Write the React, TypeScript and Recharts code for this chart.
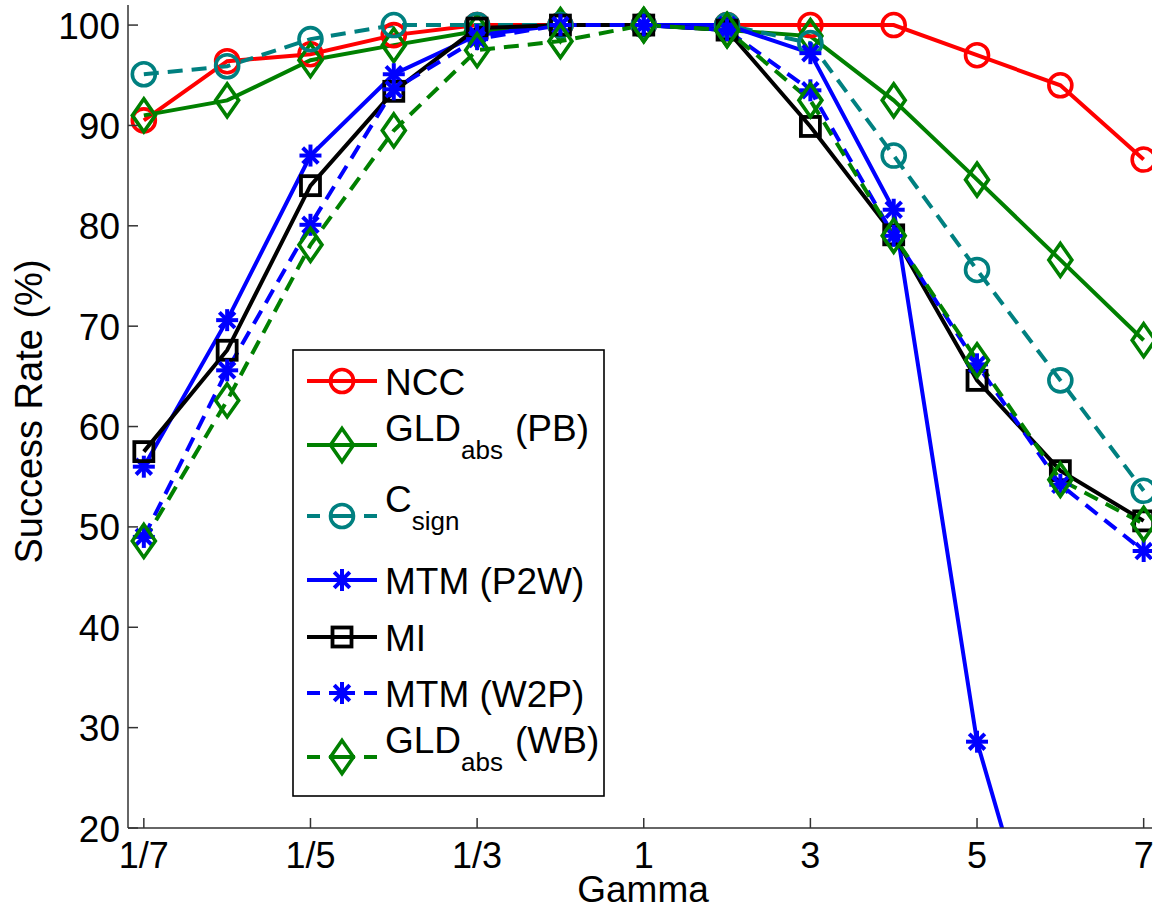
import React from 'react';
import { LineChart, Line, XAxis, YAxis, Legend, Label } from 'recharts';

// ---------- data ----------
const gammaLabels = ['1/7', '1/6', '1/5', '1/4', '1/3', '1/2', '1', '2', '3', '4', '5', '6', '7'];
const xTickIndices = [0, 2, 4, 6, 8, 10, 12];
const yTicks = [20, 30, 40, 50, 60, 70, 80, 90, 100];

const ncc = [90.5, 96.4, 97.1, 99, 100, 100, 100, 100, 100, 100, 97, 94, 86.6];
const gldPB = [91, 92.5, 96.5, 98, 99.4, 100, 100, 99.5, 98.9, 92.5, 84.6, 76.6, 68.6];
const cSign = [95.1, 95.9, 98.6, 100, 100, 100, 100, 100, 98.2, 87, 75.6, 64.6, 53.6];
const mtmP2W = [56, 70.6, 87, 95.1, 99, 100, 100, 100, 97.2, 81.6, 28.6, 0, 0];
const mi = [57.5, 67.6, 84, 93.4, 99.7, 100, 100, 99.5, 89.9, 79.1, 64.6, 55.6, 50.6];
const mtmW2P = [49, 65.6, 80.1, 93.6, 98.6, 100, 100, 99.5, 93.5, 79, 66.2, 54.2, 47.6];
const gldWB = [48.6, 62.6, 78.1, 89.5, 97.5, 98.4, 100, 99.5, 92.5, 79, 66.6, 54.7, 50.3];

type Marker = 'circle' | 'diamond' | 'square' | 'asterisk';
interface Series {
  key: string;
  values: number[];
  main: string;
  sub?: string;
  tail?: string;
  color: string;
  dashed: boolean;
  marker: Marker;
}

const series: Series[] = [
  { key: 'ncc', values: ncc, main: 'NCC', color: '#ff0000', dashed: false, marker: 'circle' },
  { key: 'gldPB', values: gldPB, main: 'GLD', sub: 'abs', tail: '(PB)', color: '#008000', dashed: false, marker: 'diamond' },
  { key: 'cSign', values: cSign, main: 'C', sub: 'sign', color: '#008080', dashed: true, marker: 'circle' },
  { key: 'mtmP2W', values: mtmP2W, main: 'MTM (P2W)', color: '#0000ff', dashed: false, marker: 'asterisk' },
  { key: 'mi', values: mi, main: 'MI', color: '#000000', dashed: false, marker: 'square' },
  { key: 'mtmW2P', values: mtmW2P, main: 'MTM (W2P)', color: '#0000ff', dashed: true, marker: 'asterisk' },
  { key: 'gldWB', values: gldWB, main: 'GLD', sub: 'abs', tail: '(WB)', color: '#008000', dashed: true, marker: 'diamond' },
];

const tableData = gammaLabels.map((g, i) => {
  const row: Record<string, number | string> = { i, gamma: g };
  series.forEach((s) => {
    row[s.key] = s.values[i];
  });
  return row;
});

// ---------- styling ----------
const FONT = "'Liberation Sans', Arial, Helvetica, sans-serif";
const AXIS = '#333333';
const LW = 4;
const DASH = '15 9';

function MarkerShape({ type, cx, cy, color }: { type: Marker; cx: number; cy: number; color: string }) {
  if (type === 'circle') {
    return <circle cx={cx} cy={cy} r={11.5} fill="none" stroke={color} strokeWidth={3.6} />;
  }
  if (type === 'diamond') {
    return (
      <path
        d={`M${cx},${cy - 16.5} L${cx + 11.5},${cy} L${cx},${cy + 16.5} L${cx - 11.5},${cy} Z`}
        fill="none"
        stroke={color}
        strokeWidth={3.6}
      />
    );
  }
  if (type === 'square') {
    return <rect x={cx - 9.5} y={cy - 9.5} width={19} height={19} fill="none" stroke={color} strokeWidth={3.8} />;
  }
  const r = 11;
  const d = 7.8;
  return (
    <g stroke={color} strokeWidth={4} strokeLinecap="butt">
      <line x1={cx - r} y1={cy} x2={cx + r} y2={cy} />
      <line x1={cx} y1={cy - r} x2={cx} y2={cy + r} />
      <line x1={cx - d} y1={cy - d} x2={cx + d} y2={cy + d} />
      <line x1={cx - d} y1={cy + d} x2={cx + d} y2={cy - d} />
    </g>
  );
}

const makeDot = (s: Series) => (props: any) => {
  const { cx, cy, index } = props;
  if (cx == null || cy == null || isNaN(cx) || isNaN(cy)) return <g key={`${s.key}-${index}`} />;
  return (
    <g key={`${s.key}-${index}`}>
      <MarkerShape type={s.marker} cx={cx} cy={cy} color={s.color} />
    </g>
  );
};

const YTick = (props: any) => {
  const { x, y, payload } = props;
  return (
    <g>
      <line x1={x + 8} x2={x + 18} y1={y} y2={y} stroke={AXIS} strokeWidth={1.5} />
      <text x={x} y={y} dy={13.5} textAnchor="end" fontSize={37} fontFamily={FONT} fill="#000">
        {payload.value}
      </text>
    </g>
  );
};

const XTick = (props: any) => {
  const { x, y, payload } = props;
  return (
    <g>
      <line x1={x} x2={x} y1={y} y2={y - 10} stroke={AXIS} strokeWidth={1.5} />
      <text x={x} y={y} dy={40} textAnchor="middle" fontSize={36} fontFamily={FONT} fill="#000">
        {gammaLabels[payload.value]}
      </text>
    </g>
  );
};

const YTitle = (props: any) => {
  const vb = props.viewBox || { y: 5, height: 823 };
  const cy = vb.y + vb.height / 2 - 5;
  return (
    <text
      x={42}
      y={cy}
      transform={`rotate(-90, 42, ${cy})`}
      textAnchor="middle"
      fontSize={38}
      fontFamily={FONT}
      fill="#000"
    >
      Success Rate (%)
    </text>
  );
};

const XTitle = (props: any) => {
  const vb = props.viewBox || { x: 128, width: 1024, y: 828 };
  const cx = vb.x + vb.width / 2 + 3;
  return (
    <text x={cx} y={902} textAnchor="middle" fontSize={37} fontFamily={FONT} fill="#000">
      Gamma
    </text>
  );
};

// legend row line positions (relative to the legend box)
const legendRowY = [32, 96, 167, 231, 288, 344, 408];

const LegendBox = () => {
  return (
    <svg width={314} height={449} style={{ display: 'block' }}>
      <rect x={1} y={1} width={311} height={446} fill="#fff" stroke="#000" strokeWidth={1.6} />
      {series.map((s, idx) => {
        const ly = legendRowY[idx];
        const hasSub = !!s.sub;
        const baseY = hasSub ? ly - 4 : ly + 13.5;
        return (
          <g key={s.key}>
            <line
              x1={15}
              x2={85}
              y1={ly}
              y2={ly}
              stroke={s.color}
              strokeWidth={LW}
              strokeDasharray={s.dashed ? '13 9 26 9 13' : undefined}
            />
            <MarkerShape type={s.marker} cx={50} cy={ly} color={s.color} />
            <text x={93} y={baseY} fontSize={37} fontFamily={FONT} fill="#000">
              <tspan>{s.main}</tspan>
              {hasSub && (
                <tspan dy={18} fontSize={26}>
                  {s.sub}
                </tspan>
              )}
              {s.tail && (
                <tspan dy={-18} dx={12}>
                  {s.tail}
                </tspan>
              )}
            </text>
          </g>
        );
      })}
    </svg>
  );
};

export default function App() {
  return (
    <div style={{ position: 'absolute', left: 0, top: 0, width: 1155, height: 913, background: '#fff' }}>
      <LineChart
        width={1155}
        height={913}
        data={tableData}
        margin={{ top: 5, right: 3, left: 0, bottom: 0 }}
      >
        <XAxis
          dataKey="i"
          type="number"
          domain={[-0.19, 12.1]}
          allowDataOverflow
          ticks={xTickIndices}
          interval={0}
          height={85}
          tickSize={0}
          tickMargin={0}
          tickLine={false}
          axisLine={{ stroke: AXIS, strokeWidth: 1.5 }}
          tick={<XTick />}
        >
          <Label content={<XTitle />} />
        </XAxis>
        <YAxis
          type="number"
          domain={[20, 102]}
          allowDataOverflow
          ticks={yTicks}
          interval={0}
          width={128}
          tickSize={0}
          tickMargin={8}
          tickLine={false}
          axisLine={{ stroke: AXIS, strokeWidth: 1.5 }}
          tick={<YTick />}
        >
          <Label content={<YTitle />} />
        </YAxis>
        <Legend
          layout="horizontal"
          verticalAlign="middle"
          align="center"
          content={() => <LegendBox />}
          wrapperStyle={{ position: 'absolute', left: 292, top: 349, width: 314, height: 449 }}
        />
        {series.map((s) => (
          <Line
            key={s.key}
            dataKey={s.key}
            type="linear"
            stroke={s.color}
            strokeWidth={LW}
            strokeDasharray={s.dashed ? DASH : undefined}
            dot={makeDot(s)}
            activeDot={false}
            isAnimationActive={false}
          />
        ))}
      </LineChart>
    </div>
  );
}
